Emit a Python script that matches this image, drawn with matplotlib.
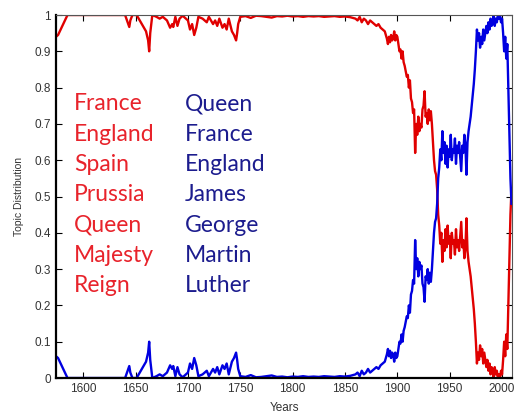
import matplotlib
matplotlib.use("Agg")
import matplotlib.pyplot as plt

# topic weights (red = topic 1, blue = topic 2)
years = [1574, 1576, 1585, 1640, 1643, 1644, 1645, 1647, 1651, 1656, 1660, 1662, 1663, 1664, 1666,
         1670, 1673, 1676, 1680, 1683, 1685, 1686, 1688, 1690, 1692, 1695, 1700, 1702, 1704, 1706,
         1708, 1710, 1714, 1718, 1720, 1724, 1726, 1728, 1730, 1733, 1735, 1737, 1739, 1742, 1744,
         1746, 1747, 1748, 1750, 1755, 1760, 1765, 1770, 1775, 1780, 1785, 1790, 1795, 1800, 1805,
         1810, 1815, 1820, 1825, 1830, 1835, 1840, 1845, 1850, 1855, 1860, 1862, 1864, 1866, 1868,
         1870, 1872, 1874, 1876, 1878, 1880, 1882, 1884, 1886, 1888, 1890, 1891, 1892, 1893, 1894,
         1895, 1896, 1897, 1898, 1899, 1900, 1901, 1902, 1903, 1904, 1905, 1906, 1907, 1908, 1909,
         1910, 1911, 1912, 1913, 1914, 1915, 1916, 1917, 1918, 1919, 1920, 1921, 1922, 1923, 1924,
         1925, 1926, 1927, 1928, 1929, 1930, 1931, 1932, 1933, 1934, 1935, 1936, 1937, 1938, 1939,
         1940, 1941, 1942, 1943, 1944, 1945, 1946, 1947, 1948, 1949, 1950, 1951, 1952, 1953, 1954,
         1955, 1956, 1957, 1958, 1959, 1960, 1961, 1962, 1963, 1964, 1965, 1966, 1967, 1968, 1969,
         1970, 1971, 1972, 1973, 1974, 1975, 1976, 1977, 1978, 1979, 1980, 1981, 1982, 1983, 1984,
         1985, 1986, 1987, 1988, 1989, 1990, 1991, 1992, 1993, 1994, 1995, 1996, 1997, 1998, 1999,
         2000, 2001, 2002, 2003, 2004, 2005, 2006, 2007, 2008, 2009]

red_topic = [0.94, 0.945, 1.0, 1.0, 0.975, 0.967, 0.985, 1.0, 1.0, 0.975, 0.955, 0.93, 0.90, 0.95, 1.0,
             0.995, 0.99, 0.995, 0.985, 0.965, 0.975, 0.967, 0.995, 0.97, 0.99, 0.998, 0.985, 0.96, 0.975, 0.945,
             0.965, 0.995, 0.99, 0.98, 0.995, 0.975, 0.985, 0.97, 0.99, 0.965, 0.975, 0.96, 0.99, 0.955, 0.945,
             0.93, 0.95, 0.975, 0.995, 0.997, 0.992, 0.998, 0.997, 0.995, 0.993, 0.997, 0.996, 0.998, 0.996, 0.997,
             0.995, 0.997, 0.996, 0.997, 0.995, 0.996, 0.997, 0.995, 0.996, 0.994, 0.99, 0.985, 0.995, 0.98, 0.99,
             0.985, 0.975, 0.985, 0.98, 0.975, 0.97, 0.975, 0.965, 0.96, 0.955, 0.935, 0.92, 0.94, 0.925, 0.945,
             0.93, 0.935, 0.955, 0.93, 0.945, 0.94, 0.92, 0.90, 0.905, 0.88, 0.90, 0.87, 0.86, 0.845, 0.83,
             0.835, 0.80, 0.82, 0.77, 0.76, 0.73, 0.74, 0.62, 0.70, 0.67, 0.72, 0.68, 0.70, 0.69, 0.74,
             0.75, 0.79, 0.72, 0.73, 0.70, 0.74, 0.71, 0.735, 0.70, 0.65, 0.60, 0.57, 0.56, 0.52, 0.45,
             0.42, 0.37, 0.40, 0.32, 0.38, 0.35, 0.41, 0.36, 0.42, 0.37, 0.39, 0.33, 0.40, 0.37, 0.38,
             0.34, 0.41, 0.36, 0.38, 0.35, 0.39, 0.43, 0.36, 0.38, 0.33, 0.36, 0.44, 0.35, 0.32, 0.30,
             0.28, 0.25, 0.22, 0.19, 0.15, 0.10, 0.04, 0.07, 0.05, 0.09, 0.06, 0.08, 0.04, 0.07, 0.05,
             0.03, 0.05, 0.02, 0.04, 0.01, 0.03, 0.02, 0.00, 0.03, 0.01, 0.02, 0.00, 0.01, 0.00, 0.02,
             0.01, 0.05, 0.10, 0.06, 0.12, 0.08, 0.20, 0.33, 0.45, 0.52]

blue_topic = [0.06, 0.055, 0.0, 0.0, 0.025, 0.033, 0.015, 0.0, 0.0, 0.025, 0.045, 0.07, 0.10, 0.05, 0.0,
              0.005, 0.01, 0.005, 0.015, 0.035, 0.025, 0.033, 0.005, 0.03, 0.01, 0.002, 0.015, 0.04, 0.025, 0.055,
              0.035, 0.005, 0.01, 0.02, 0.005, 0.025, 0.015, 0.03, 0.01, 0.035, 0.025, 0.04, 0.01, 0.045, 0.055,
              0.07, 0.05, 0.025, 0.005, 0.003, 0.008, 0.002, 0.003, 0.005, 0.007, 0.003, 0.004, 0.002, 0.004, 0.003,
              0.005, 0.003, 0.004, 0.003, 0.005, 0.004, 0.003, 0.005, 0.004, 0.006, 0.01, 0.015, 0.005, 0.02, 0.01,
              0.015, 0.025, 0.015, 0.02, 0.025, 0.03, 0.025, 0.035, 0.04, 0.045, 0.065, 0.08, 0.06, 0.075, 0.055,
              0.07, 0.065, 0.045, 0.07, 0.055, 0.06, 0.08, 0.10, 0.095, 0.12, 0.10, 0.13, 0.14, 0.155, 0.17,
              0.165, 0.20, 0.18, 0.23, 0.24, 0.27, 0.26, 0.38, 0.30, 0.33, 0.28, 0.32, 0.30, 0.31, 0.26,
              0.25, 0.21, 0.28, 0.27, 0.30, 0.26, 0.29, 0.265, 0.30, 0.35, 0.40, 0.43, 0.44, 0.48, 0.55,
              0.58, 0.63, 0.60, 0.68, 0.62, 0.65, 0.59, 0.64, 0.58, 0.63, 0.61, 0.67, 0.60, 0.63, 0.62,
              0.66, 0.59, 0.64, 0.62, 0.65, 0.61, 0.57, 0.64, 0.62, 0.67, 0.64, 0.56, 0.65, 0.68, 0.70,
              0.72, 0.75, 0.78, 0.81, 0.85, 0.90, 0.96, 0.93, 0.95, 0.91, 0.94, 0.92, 0.96, 0.93, 0.95,
              0.97, 0.95, 0.98, 0.96, 0.99, 0.97, 0.98, 1.00, 0.97, 0.99, 0.98, 1.00, 0.99, 1.00, 0.98,
              0.99, 0.95, 0.90, 0.94, 0.88, 0.92, 0.80, 0.67, 0.55, 0.48]

red_words = ["France", "England", "Spain", "Prussia", "Queen", "Majesty", "Reign"]
blue_words = ["Queen", "France", "England", "James", "George", "Martin", "Luther"]

xticks = [1600, 1650, 1700, 1750, 1800, 1850, 1900, 1950, 2000]
yticks = [0, 0.1, 0.2, 0.3, 0.4, 0.5, 0.6, 0.7, 0.8, 0.9, 1]
ytick_labels = ["0", "0.1", "0.2", "0.3", "0.4", "0.5", "0.6", "0.7", "0.8", "0.9", "1"]

plt.rcParams['font.family'] = ['Liberation Sans', 'DejaVu Sans']

fig = plt.figure(figsize=(5.15, 4.17), dpi=100)
ax = fig.add_axes([0.1087, 0.0935, 0.8855, 0.8705])

ax.plot(years, red_topic, color='#e00000', linewidth=1.7)
ax.plot(years, blue_topic, color='#0000e0', linewidth=1.7)

ax.set_xlim(1574, 2009.5)
ax.set_ylim(0, 1)
ax.set_xticks(xticks)
ax.set_yticks(yticks)
ax.set_yticklabels(ytick_labels)
ax.tick_params(direction='in', top=True, right=True, length=4, labelsize=8.5,
               labelcolor='#333333', width=0.8)
ax.set_xlabel("Years", fontsize=8.5, color='#333333', labelpad=5)
ax.set_ylabel("Topic Distribution", fontsize=7.5, color='#333333', labelpad=8)

for side in ['left', 'bottom']:
    ax.spines[side].set_linewidth(1.6)
for side in ['top', 'right']:
    ax.spines[side].set_linewidth(0.8)
    ax.spines[side].set_color('#555555')

# the two word lists
for i, (rw, bw) in enumerate(zip(red_words, blue_words)):
    yy = 0.755 - i * 0.0835
    ax.text(1591, yy, rw, color='#e8232b', fontsize=16.5, family=['Lato', 'DejaVu Sans'],
            va='center', ha='left')
    ax.text(1697, yy, bw, color='#1c1c8e', fontsize=16.5, family=['Lato', 'DejaVu Sans'],
            va='center', ha='left')

fig.savefig("out.png", dpi=100)
